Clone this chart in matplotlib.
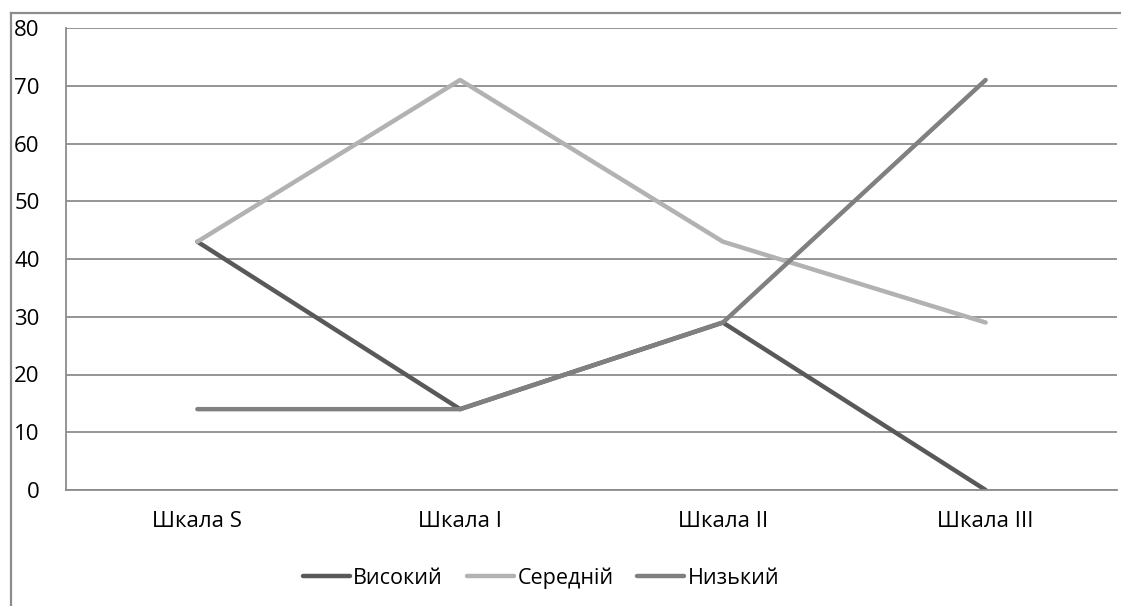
import matplotlib.pyplot as plt
from matplotlib.lines import Line2D

# scale levels per category
categories = ['Шкала S', 'Шкала I', 'Шкала II', 'Шкала III']
high = [43, 14, 29, 0]
medium = [43, 71, 43, 29]
low = [14, 14, 29, 71]

series_names = ['Високий', 'Середній', 'Низький']
colors = ['#595959', '#b2b2b2', '#808080']

plt.rcParams['font.family'] = ['Open Sans', 'DejaVu Sans']

W, H = 1121, 606
fig = plt.figure(figsize=(W / 100, H / 100), dpi=100)

# outer chart border (runs off the right and bottom edges)
bx, by = 10.5 / W, (H - 12.5) / H
border = dict(transform=fig.transFigure, color='#8c8c8c', linewidth=1.6,
              solid_capstyle='projecting')
fig.add_artist(Line2D([bx, bx], [0, by], **border))
fig.add_artist(Line2D([bx, 1], [by, by], **border))

ax = fig.add_axes([66 / W, (H - 490) / H, (1117 - 66) / W, (490 - 28) / H])

x = range(len(categories))
for vals, name, c in zip([high, medium, low], series_names, colors):
    ax.plot(x, vals, color=c, linewidth=3.2, label=name, solid_capstyle='round')

ax.set_xlim(-0.5, len(categories) - 0.5)
ax.set_ylim(0, 80)
ax.set_yticks(range(0, 81, 10))
ax.set_xticks(list(x))
ax.set_xticklabels(categories)
ax.yaxis.grid(True, color='#8c8c8c', linewidth=1.3)
ax.set_axisbelow(True)
ax.tick_params(axis='both', length=0, labelsize=16, colors='black')
ax.tick_params(axis='y', pad=19)
ax.tick_params(axis='x', pad=15)
for s in ['top', 'right']:
    ax.spines[s].set_visible(False)
for s in ['left', 'bottom']:
    ax.spines[s].set_color('#8c8c8c')
    ax.spines[s].set_linewidth(1.3)

fig.legend(loc='center', bbox_to_anchor=(541 / W, (H - 578) / H), ncol=3,
           frameon=False, fontsize=15.5, handlelength=2.2, handletextpad=0.15,
           columnspacing=1.1)

fig.savefig('out.png', dpi=100)
